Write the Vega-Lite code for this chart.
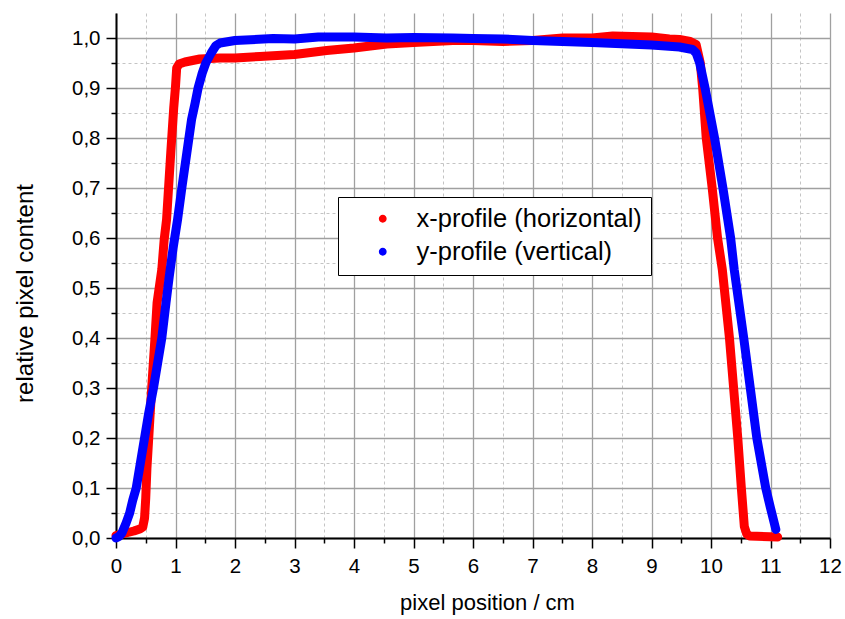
{
  "$schema": "https://vega.github.io/schema/vega-lite/v6.json",
  "autosize": {"type": "none"},
  "padding": {"left": 116, "top": 13, "right": 15, "bottom": 81},
  "width": 714,
  "height": 525,
  "background": "white",
  "config": {
    "font": "Liberation Sans",
    "view": {"stroke": null},
    "locale": {"number": {"decimal": ",", "thousands": ".", "grouping": [3], "currency": ["", " €"]}}
  },
  "data": {"values": [
    {"series": "x-profile (horizontal)", "x": 0.0, "y": 0.005},
    {"series": "x-profile (horizontal)", "x": 0.1, "y": 0.008},
    {"series": "x-profile (horizontal)", "x": 0.2, "y": 0.011},
    {"series": "x-profile (horizontal)", "x": 0.3, "y": 0.014},
    {"series": "x-profile (horizontal)", "x": 0.4, "y": 0.018},
    {"series": "x-profile (horizontal)", "x": 0.45, "y": 0.022},
    {"series": "x-profile (horizontal)", "x": 0.48, "y": 0.04},
    {"series": "x-profile (horizontal)", "x": 0.5, "y": 0.08},
    {"series": "x-profile (horizontal)", "x": 0.52, "y": 0.14},
    {"series": "x-profile (horizontal)", "x": 0.55, "y": 0.2},
    {"series": "x-profile (horizontal)", "x": 0.6, "y": 0.3},
    {"series": "x-profile (horizontal)", "x": 0.655, "y": 0.4},
    {"series": "x-profile (horizontal)", "x": 0.69, "y": 0.47},
    {"series": "x-profile (horizontal)", "x": 0.77, "y": 0.537},
    {"series": "x-profile (horizontal)", "x": 0.81, "y": 0.597},
    {"series": "x-profile (horizontal)", "x": 0.85, "y": 0.637},
    {"series": "x-profile (horizontal)", "x": 0.92, "y": 0.77},
    {"series": "x-profile (horizontal)", "x": 0.97, "y": 0.86},
    {"series": "x-profile (horizontal)", "x": 1.0, "y": 0.903},
    {"series": "x-profile (horizontal)", "x": 1.02, "y": 0.94},
    {"series": "x-profile (horizontal)", "x": 1.06, "y": 0.948},
    {"series": "x-profile (horizontal)", "x": 1.16, "y": 0.952},
    {"series": "x-profile (horizontal)", "x": 1.41, "y": 0.958},
    {"series": "x-profile (horizontal)", "x": 1.75, "y": 0.96},
    {"series": "x-profile (horizontal)", "x": 2.0, "y": 0.96},
    {"series": "x-profile (horizontal)", "x": 2.42, "y": 0.963},
    {"series": "x-profile (horizontal)", "x": 3.0, "y": 0.967},
    {"series": "x-profile (horizontal)", "x": 3.54, "y": 0.975},
    {"series": "x-profile (horizontal)", "x": 4.0, "y": 0.98},
    {"series": "x-profile (horizontal)", "x": 4.55, "y": 0.988},
    {"series": "x-profile (horizontal)", "x": 5.0, "y": 0.991},
    {"series": "x-profile (horizontal)", "x": 5.66, "y": 0.995},
    {"series": "x-profile (horizontal)", "x": 6.0, "y": 0.995},
    {"series": "x-profile (horizontal)", "x": 6.5, "y": 0.993},
    {"series": "x-profile (horizontal)", "x": 7.0, "y": 0.995},
    {"series": "x-profile (horizontal)", "x": 7.51, "y": 1.0},
    {"series": "x-profile (horizontal)", "x": 8.0, "y": 1.0},
    {"series": "x-profile (horizontal)", "x": 8.35, "y": 1.004},
    {"series": "x-profile (horizontal)", "x": 9.0, "y": 1.002},
    {"series": "x-profile (horizontal)", "x": 9.3, "y": 0.998},
    {"series": "x-profile (horizontal)", "x": 9.47, "y": 0.997},
    {"series": "x-profile (horizontal)", "x": 9.65, "y": 0.993},
    {"series": "x-profile (horizontal)", "x": 9.75, "y": 0.987},
    {"series": "x-profile (horizontal)", "x": 9.82, "y": 0.95},
    {"series": "x-profile (horizontal)", "x": 9.86, "y": 0.9},
    {"series": "x-profile (horizontal)", "x": 9.92, "y": 0.8},
    {"series": "x-profile (horizontal)", "x": 10.02, "y": 0.7},
    {"series": "x-profile (horizontal)", "x": 10.11, "y": 0.6},
    {"series": "x-profile (horizontal)", "x": 10.19, "y": 0.537},
    {"series": "x-profile (horizontal)", "x": 10.31, "y": 0.4},
    {"series": "x-profile (horizontal)", "x": 10.38, "y": 0.3},
    {"series": "x-profile (horizontal)", "x": 10.45, "y": 0.2},
    {"series": "x-profile (horizontal)", "x": 10.51, "y": 0.1},
    {"series": "x-profile (horizontal)", "x": 10.56, "y": 0.023},
    {"series": "x-profile (horizontal)", "x": 10.6, "y": 0.008},
    {"series": "x-profile (horizontal)", "x": 10.65, "y": 0.004},
    {"series": "x-profile (horizontal)", "x": 11.12, "y": 0.002},
    {"series": "y-profile (vertical)", "x": 0.0, "y": 0.0},
    {"series": "y-profile (vertical)", "x": 0.05, "y": 0.003},
    {"series": "y-profile (vertical)", "x": 0.1, "y": 0.01},
    {"series": "y-profile (vertical)", "x": 0.17, "y": 0.03},
    {"series": "y-profile (vertical)", "x": 0.23, "y": 0.05},
    {"series": "y-profile (vertical)", "x": 0.28, "y": 0.075},
    {"series": "y-profile (vertical)", "x": 0.34, "y": 0.1},
    {"series": "y-profile (vertical)", "x": 0.41, "y": 0.15},
    {"series": "y-profile (vertical)", "x": 0.48, "y": 0.2},
    {"series": "y-profile (vertical)", "x": 0.55, "y": 0.25},
    {"series": "y-profile (vertical)", "x": 0.63, "y": 0.3},
    {"series": "y-profile (vertical)", "x": 0.7, "y": 0.35},
    {"series": "y-profile (vertical)", "x": 0.77, "y": 0.4},
    {"series": "y-profile (vertical)", "x": 0.84, "y": 0.47},
    {"series": "y-profile (vertical)", "x": 0.895, "y": 0.523},
    {"series": "y-profile (vertical)", "x": 0.96, "y": 0.58},
    {"series": "y-profile (vertical)", "x": 1.035, "y": 0.637},
    {"series": "y-profile (vertical)", "x": 1.11, "y": 0.703},
    {"series": "y-profile (vertical)", "x": 1.19, "y": 0.77},
    {"series": "y-profile (vertical)", "x": 1.27, "y": 0.837},
    {"series": "y-profile (vertical)", "x": 1.33, "y": 0.87},
    {"series": "y-profile (vertical)", "x": 1.38, "y": 0.9},
    {"series": "y-profile (vertical)", "x": 1.45, "y": 0.93},
    {"series": "y-profile (vertical)", "x": 1.51, "y": 0.95},
    {"series": "y-profile (vertical)", "x": 1.6, "y": 0.97},
    {"series": "y-profile (vertical)", "x": 1.68, "y": 0.985},
    {"series": "y-profile (vertical)", "x": 1.75, "y": 0.99},
    {"series": "y-profile (vertical)", "x": 2.0, "y": 0.995},
    {"series": "y-profile (vertical)", "x": 2.64, "y": 0.999},
    {"series": "y-profile (vertical)", "x": 3.0, "y": 0.998},
    {"series": "y-profile (vertical)", "x": 3.4, "y": 1.002},
    {"series": "y-profile (vertical)", "x": 4.0, "y": 1.002},
    {"series": "y-profile (vertical)", "x": 4.55, "y": 1.0},
    {"series": "y-profile (vertical)", "x": 5.0, "y": 1.001},
    {"series": "y-profile (vertical)", "x": 5.66, "y": 1.0},
    {"series": "y-profile (vertical)", "x": 6.0, "y": 0.999},
    {"series": "y-profile (vertical)", "x": 6.5, "y": 0.998},
    {"series": "y-profile (vertical)", "x": 7.0, "y": 0.995},
    {"series": "y-profile (vertical)", "x": 8.0, "y": 0.991},
    {"series": "y-profile (vertical)", "x": 9.0, "y": 0.986},
    {"series": "y-profile (vertical)", "x": 9.47, "y": 0.982},
    {"series": "y-profile (vertical)", "x": 9.69, "y": 0.977},
    {"series": "y-profile (vertical)", "x": 9.75, "y": 0.97},
    {"series": "y-profile (vertical)", "x": 9.81, "y": 0.95},
    {"series": "y-profile (vertical)", "x": 9.9, "y": 0.9},
    {"series": "y-profile (vertical)", "x": 10.06, "y": 0.8},
    {"series": "y-profile (vertical)", "x": 10.2, "y": 0.7},
    {"series": "y-profile (vertical)", "x": 10.33, "y": 0.6},
    {"series": "y-profile (vertical)", "x": 10.39, "y": 0.537},
    {"series": "y-profile (vertical)", "x": 10.55, "y": 0.4},
    {"series": "y-profile (vertical)", "x": 10.66, "y": 0.3},
    {"series": "y-profile (vertical)", "x": 10.77, "y": 0.2},
    {"series": "y-profile (vertical)", "x": 10.92, "y": 0.1},
    {"series": "y-profile (vertical)", "x": 11.0, "y": 0.06},
    {"series": "y-profile (vertical)", "x": 11.09, "y": 0.017}
  ]},
  "layer": [
    {
      "mark": {"type": "point", "filled": true, "size": 30, "opacity": 1},
      "encoding": {
        "x": {"field": "x", "type": "quantitative",
              "scale": {"domain": [0, 12], "nice": false, "zero": false},
              "axis": {"orient": "bottom", "values": [0.5, 1.5, 2.5, 3.5, 4.5, 5.5, 6.5, 7.5, 8.5, 9.5, 10.5, 11.5],
                       "grid": true, "gridColor": "#c4c4c4", "gridDash": [3, 3], "gridWidth": 1,
                       "tickSize": 5, "tickColor": "black", "tickWidth": 1.5, "labels": false, "domain": false, "title": null}},
        "y": {"field": "y", "type": "quantitative",
              "scale": {"domain": [0, 1.05], "nice": false, "zero": false},
              "axis": {"orient": "left", "values": [0.05, 0.15, 0.25, 0.35, 0.45, 0.55, 0.65, 0.75, 0.85, 0.95],
                       "grid": true, "gridColor": "#c4c4c4", "gridDash": [3, 3], "gridWidth": 1,
                       "tickSize": 5, "tickColor": "black", "tickWidth": 1.5, "labels": false, "domain": false, "title": null}},
        "color": {"field": "series", "type": "nominal",
                  "scale": {"domain": ["x-profile (horizontal)", "y-profile (vertical)"], "range": ["#ff0000", "#0000ff"]},
                  "legend": {"orient": "none", "legendX": 222, "legendY": 184, "title": null,
                             "fillColor": "white", "strokeColor": "black", "padding": 9,
                             "symbolType": "circle", "symbolSize": 40, "symbolOffset": 23,
                             "labelFontSize": 25.5, "labelColor": "black", "labelOffset": 21,
                             "rowPadding": 6, "labelLimit": 500}}
      }
    },
    {
      "mark": {"type": "line", "strokeWidth": 9, "strokeCap": "round", "strokeJoin": "round"},
      "encoding": {
        "x": {"field": "x", "type": "quantitative",
              "scale": {"domain": [0, 12], "nice": false, "zero": false},
              "axis": {"orient": "bottom", "values": [0, 1, 2, 3, 4, 5, 6, 7, 8, 9, 10, 11, 12],
                       "grid": true, "gridColor": "#a0a0a0", "gridWidth": 1.3,
                       "tickSize": 10, "tickColor": "black", "tickWidth": 1.5,
                       "domainColor": "black", "domainWidth": 2, "labelFlush": false,
                       "labelFontSize": 20.5, "labelColor": "black", "labelPadding": 8, "format": "d",
                       "title": "pixel position / cm", "titleFontSize": 22, "titleFontWeight": "normal",
                       "titleColor": "black", "titlePadding": 16, "titleX": 371}},
        "y": {"field": "y", "type": "quantitative",
              "scale": {"domain": [0, 1.05], "nice": false, "zero": false},
              "axis": {"orient": "left", "values": [0, 0.1, 0.2, 0.3, 0.4, 0.5, 0.6, 0.7, 0.8, 0.9, 1.0],
                       "grid": true, "gridColor": "#a0a0a0", "gridWidth": 1.3,
                       "tickSize": 10, "tickColor": "black", "tickWidth": 1.5,
                       "domainColor": "black", "domainWidth": 2, "labelFlush": false,
                       "labelFontSize": 20.5, "labelColor": "black", "labelPadding": 6, "format": ".1f",
                       "title": "relative pixel content", "titleFontSize": 24, "titleFontWeight": "normal",
                       "titleColor": "black", "titlePadding": 34, "titleY": 280}},
        "stroke": {"field": "series", "type": "nominal",
                   "scale": {"domain": ["x-profile (horizontal)", "y-profile (vertical)"], "range": ["#ff0000", "#0000ff"]},
                   "legend": null}
      }
    }
  ],
  "resolve": {"axis": {"x": "independent", "y": "independent"}}
}
